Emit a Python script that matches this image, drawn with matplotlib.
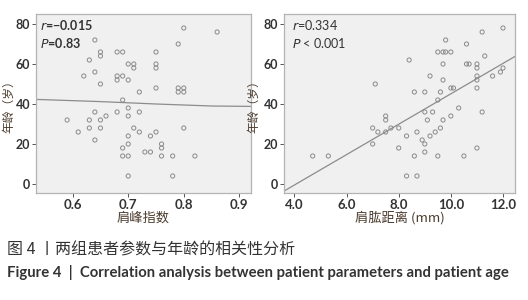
import numpy as np
import matplotlib
matplotlib.use("Agg")
import matplotlib.pyplot as plt

plt.rcParams['font.family'] = ['Lato', 'Noto Sans CJK SC', 'DejaVu Sans']

# 左图: 肩峰指数 vs 年龄
acromion_index = [0.64, 0.65, 0.65, 0.63, 0.68, 0.69, 0.75, 0.64, 0.62, 0.68, 0.68,
                  0.69, 0.70, 0.65, 0.70, 0.71, 0.71, 0.75, 0.75, 0.72, 0.75, 0.79,
                  0.80, 0.86, 0.79, 0.79, 0.80, 0.80, 0.69, 0.64, 0.68, 0.72, 0.70,
                  0.70, 0.66, 0.65, 0.63, 0.59, 0.63, 0.65, 0.71, 0.80, 0.61, 0.72,
                  0.75, 0.74, 0.70, 0.64, 0.70, 0.76, 0.76, 0.69, 0.73, 0.74, 0.69,
                  0.70, 0.76, 0.78, 0.82, 0.70, 0.78]
age_left = [72, 66, 64, 62, 66, 66, 66, 56, 54, 54, 52,
            54, 52, 50, 60, 60, 58, 60, 58, 46, 48, 70,
            78, 76, 48, 46, 48, 46, 42, 36, 36, 36, 38,
            34, 34, 32, 32, 32, 28, 28, 28, 28, 26, 26,
            26, 24, 24, 22, 20, 20, 18, 18, 16, 16, 14,
            14, 14, 14, 14, 4, 4]
fit_left_x = [0.534, 0.65, 0.75, 0.85, 0.921]
fit_left_y = [42.3, 41.2, 40.0, 39.0, 38.8]

# 右图: 肩肱距离 vs 年龄
ahd_mm = [4.7, 5.3, 7.1, 7.0, 7.0, 7.2, 7.5, 7.5, 7.5, 7.7, 8.0, 8.0, 8.4, 8.3,
          8.3, 8.7, 8.6, 8.7, 8.6, 9.0, 9.0, 9.1, 9.2, 8.9, 9.0, 9.0, 9.2, 9.3,
          9.4, 9.5, 9.5, 9.5, 9.7, 9.8, 10.0, 9.8, 9.7, 9.7, 9.6, 9.6, 9.7, 10.0,
          10.1, 10.0, 10.3, 10.6, 10.6, 10.7, 10.5, 11.0, 11.0, 11.0, 11.0, 11.0,
          11.0, 11.2, 11.3, 11.2, 11.6, 11.9, 12.0, 12.0]
age_right = [14, 14, 50, 28, 20, 26, 34, 32, 26, 28, 28, 18, 62, 24,
             4, 4, 46, 26, 14, 46, 36, 32, 54, 22, 20, 16, 24, 36,
             26, 42, 14, 66, 66, 66, 66, 72, 60, 52, 46, 28, 32, 48,
             48, 34, 38, 70, 60, 60, 14, 60, 58, 54, 52, 48,
             18, 76, 64, 36, 54, 56, 58, 78]
fit_right_slope = 7.6
fit_right_intercept = -30.9

text_col = '#333333'
label_col = '#4a3b2c'
cjk = ['Noto Sans CJK SC', 'DejaVu Sans']

fig = plt.figure(figsize=(5.28, 3.0), dpi=100)
ax1 = fig.add_axes([36/528, 1-193/300, 215/528, 179/300])
ax2 = fig.add_axes([284/528, 1-193/300, 231/528, 179/300])

for ax, lx in ((ax1, -21/215), (ax2, -23.5/231)):
    ax.set_facecolor('#f0f0f0')
    for s in ax.spines.values():
        s.set_color('#b4b4b4')
        s.set_linewidth(0.9)
    ax.set_ylim(-4.5, 85)
    ax.set_yticks([0, 20, 40, 60, 80])
    ax.set_yticklabels(['0', '20', '40', '60', '80'], fontweight='bold')
    ax.tick_params(length=3, width=0.7, color='#555555', labelsize=9.5,
                   labelcolor=text_col, pad=1.5)
    ax.tick_params(axis='y', labelsize=9, pad=1)
    ax.set_ylabel('年龄（岁）', family=cjk, fontsize=8.5, color=label_col)
    ax.yaxis.set_label_coords(lx, 0.5)

ax1.scatter(acromion_index, age_left, s=9, facecolors='none', edgecolors='#8a8a8a',
            linewidths=0.7, zorder=3)
ax1.plot(fit_left_x, fit_left_y, color='#8c8c8c', lw=0.9, zorder=2)
ax1.set_xlim(0.534, 0.921)
ax1.set_xticks([0.6, 0.7, 0.8, 0.9])
ax1.set_xticklabels(['0.6', '0.7', '0.8', '0.9'], fontweight='bold')
ax1.set_xlabel('肩峰指数', family=cjk, fontsize=9.5, color=label_col, labelpad=0)
ax1.text(0.02, 0.94, r'$\it{r}$=−0.015', transform=ax1.transAxes, fontsize=9,
         fontweight='bold', color=text_col, va='center')
ax1.text(0.02, 0.84, r'$\it{P}$=0.83', transform=ax1.transAxes, fontsize=9,
         fontweight='bold', color=text_col, va='center')

xr = np.array([3.6, 12.46])
ax2.scatter(ahd_mm, age_right, s=9, facecolors='none', edgecolors='#8a8a8a',
            linewidths=0.7, zorder=3)
ax2.plot(xr, fit_right_slope * xr + fit_right_intercept, color='#8c8c8c', lw=0.9, zorder=2)
ax2.set_xlim(3.6, 12.46)
ax2.set_xticks([4, 6, 8, 10, 12])
ax2.set_xticklabels(['4.0', '6.0', '8.0', '10.0', '12.0'], fontweight='bold')
ax2.set_xlabel('肩肱距离 (mm)', family=cjk, fontsize=9.5, color=label_col, labelpad=0)
ax2.text(0.035, 0.94, r'$\it{r}$=0.334', transform=ax2.transAxes, fontsize=9,
         color=text_col, va='center')
ax2.text(0.035, 0.84, r'$\it{P}$ < 0.001', transform=ax2.transAxes, fontsize=9,
         color=text_col, va='center')

cap_cn = fig.text(7/528, 1-250/300, '图 4 丨两组患者参数与年龄的相关性分析', family=cjk,
                  fontsize=11.5, fontweight='medium', color='#333333', va='center')
cap_en = fig.text(7/528, 1-272/300,
                  'Figure 4  |  Correlation analysis between patient parameters and patient age',
                  fontsize=9.0, fontweight='bold', color='#333333', va='center')

# 按参考图宽度缩放标题字号
r = fig.canvas.get_renderer()
for t, target in ((cap_cn, 288), (cap_en, 500)):
    w = t.get_window_extent(renderer=r).width
    t.set_fontsize(t.get_fontsize() * target / w)

fig.savefig('out.png', dpi=100)
